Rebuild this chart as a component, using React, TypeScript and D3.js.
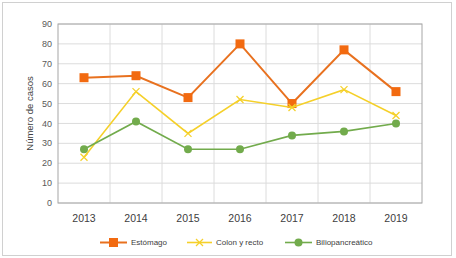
import React from "react";
import * as d3 from "d3";

const years = ["2013", "2014", "2015", "2016", "2017", "2018", "2019"];
const estomago = [63, 64, 53, 80, 50, 77, 56];
const colonRecto = [23, 56, 35, 52, 48, 57, 44];
const bilio = [27, 41, 27, 27, 34, 36, 40];
const yTicks = [0, 10, 20, 30, 40, 50, 60, 70, 80, 90];
const seriesNames = ["Estómago", "Colon y recto", "Biliopancreático"];

const W = 456, H = 258;
const L = 58, R = 422, T = 24, B = 203;
const font = "Arial, 'Liberation Sans', sans-serif";
const txt = "#595959";

export default function App() {
  const x = d3.scaleBand<string>().domain(years).range([L, R]);
  const y = d3.scaleLinear().domain([0, 90]).range([B, T]);
  const cx = (d: string) => (x(d) as number) + x.bandwidth() / 2;
  const line = (vals: number[]) =>
    d3.line<number>().x((_, i) => cx(years[i])).y((v) => y(v))(vals) as string;

  const series = [
    { name: seriesNames[0], vals: estomago, color: "#E8711F", marker: "square", mcolor: "#F26A10" },
    { name: seriesNames[1], vals: colonRecto, color: "#F5D02A", marker: "x", mcolor: "#F5D02A" },
    { name: seriesNames[2], vals: bilio, color: "#72AB4C", marker: "circle", mcolor: "#72AB4C" },
  ];

  const marker = (s: any, px: number, py: number, key: any) => {
    if (s.marker === "square")
      return <rect key={key} x={px - 4.5} y={py - 4.5} width={9} height={9} fill={s.mcolor} />;
    if (s.marker === "circle")
      return <circle key={key} cx={px} cy={py} r={4} fill={s.mcolor} />;
    return (
      <g key={key} stroke={s.mcolor} strokeWidth={1.3}>
        <line x1={px - 3.5} y1={py - 3.5} x2={px + 3.5} y2={py + 3.5} />
        <line x1={px - 3.5} y1={py + 3.5} x2={px + 3.5} y2={py - 3.5} />
      </g>
    );
  };

  const legendX = [100, 187, 285];
  const legendLineW = [27, 25, 27];
  const legendY = 242.5;

  return (
    <svg width={W} height={H} style={{ position: "absolute", left: 0, top: 0 }} fontFamily={font}>
      <rect x={0} y={0} width={W} height={H} fill="#fff" />
      <rect x={2.5} y={2.5} width={449} height={253} fill="#fff" stroke="#d0d0d0" strokeWidth={1} />
      {yTicks.map((t) => (
        <line key={"g" + t} x1={L} x2={R} y1={y(t)} y2={y(t)} stroke="#dcdcdc" strokeWidth={1} />
      ))}
      {years.slice(1).map((d) => (
        <line key={"v" + d} x1={x(d)} x2={x(d)} y1={T} y2={B} stroke="#dcdcdc" strokeWidth={1} />
      ))}
      <rect x={L} y={T} width={R - L} height={B - T} fill="none" stroke="#a6a6a6" strokeWidth={1} />
      {yTicks.map((t) => (
        <text key={"t" + t} x={52} y={y(t)} dy="0.35em" textAnchor="end" fontSize={9} fill={txt}>
          {t}
        </text>
      ))}
      {years.map((d) => (
        <text key={"x" + d} x={cx(d)} y={218} dy="0.35em" textAnchor="middle" fontSize={10.5} fill="#404040">
          {d}
        </text>
      ))}
      <text
        transform={`translate(30,${(T + B) / 2}) rotate(-90)`}
        textAnchor="middle"
        dy="0.35em"
        fontSize={9.5}
        fill="#404040"
      >
        Número de casos
      </text>
      {series.map((s, si) => (
        <g key={"s" + si}>
          <path d={line(s.vals)} fill="none" stroke={s.color} strokeWidth={si === 0 ? 2 : 1.6} />
          {s.vals.map((v, i) => marker(s, cx(years[i]), y(v), i))}
        </g>
      ))}
      {series.map((s, si) => {
        const lx = legendX[si];
        const lw = legendLineW[si];
        return (
          <g key={"l" + si}>
            <line x1={lx} x2={lx + lw} y1={legendY} y2={legendY} stroke={s.color} strokeWidth={si === 0 ? 2 : 1.6} />
            {marker(s, lx + lw / 2, legendY, "m")}
            <text x={lx + lw + 4} y={legendY} dy="0.35em" fontSize={8} fill="#404040">
              {s.name}
            </text>
          </g>
        );
      })}
    </svg>
  );
}
